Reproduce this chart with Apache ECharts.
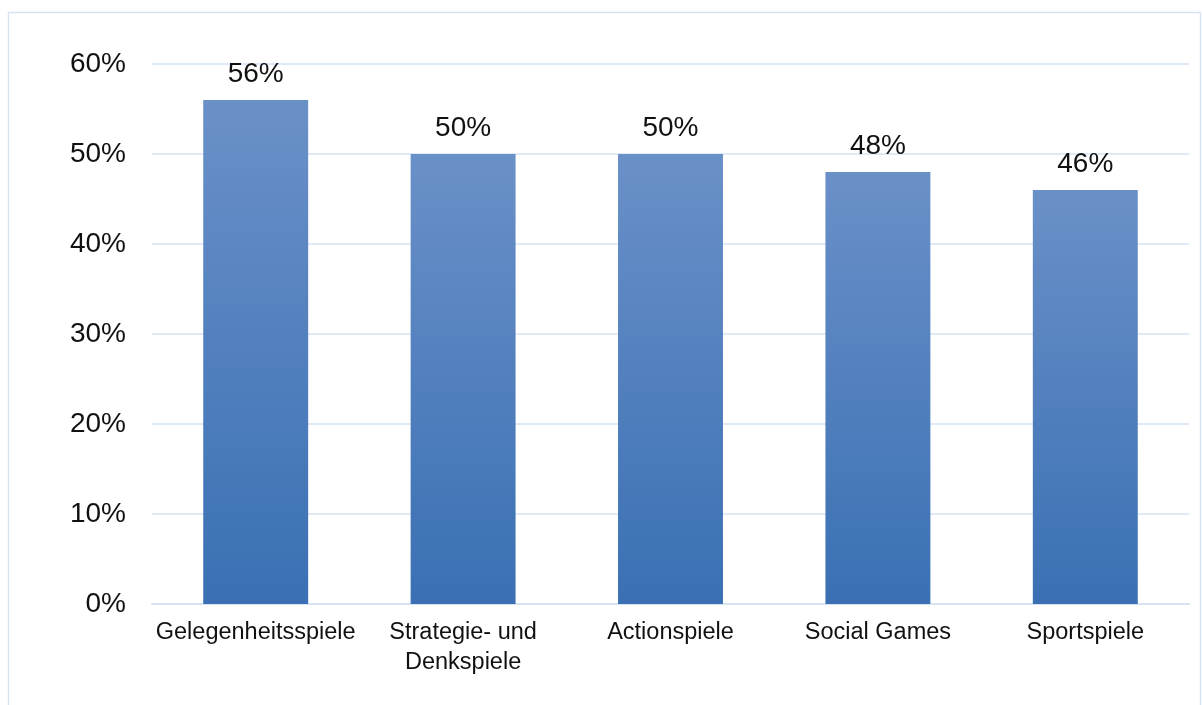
<!DOCTYPE html>
<html>
<head>
<meta charset="utf-8">
<script src="https://cdn.jsdelivr.net/npm/echarts@6/dist/echarts.min.js"></script>
<style>
  html, body { margin: 0; padding: 0; background: #ffffff; }
  #chart { width: 1202px; height: 705px; }
</style>
</head>
<body>
<div id="chart"></div>
<script>
// Genres and share of players (%)
const categories = ['Gelegenheitsspiele', 'Strategie- und\nDenkspiele', 'Actionspiele', 'Social Games', 'Sportspiele'];
const shares = [56, 50, 50, 48, 46];
const yTicks = { min: 0, max: 60, interval: 10 };

const chart = echarts.init(document.getElementById('chart'), null, { renderer: 'canvas' });
const fontFamily = '"Liberation Sans", Arial, sans-serif';

chart.setOption({
  backgroundColor: '#ffffff',
  animation: false,
  graphic: [{
    type: 'rect',
    shape: { x: 8.5, y: 12.5, width: 1192, height: 710 },
    style: { fill: 'none', stroke: '#d5e3f3', lineWidth: 1.5 },
    silent: true
  }],
  grid: { left: 152, right: 13, top: 64, bottom: 101, containLabel: false },
  xAxis: {
    type: 'category',
    data: categories,
    axisLine: { show: true, lineStyle: { color: '#d5e3f3', width: 2 } },
    axisTick: { show: false },
    axisLabel: {
      color: '#111111', fontSize: 23.5, fontFamily, margin: 14, lineHeight: 30, interval: 0
    }
  },
  yAxis: {
    type: 'value',
    min: yTicks.min, max: yTicks.max, interval: yTicks.interval,
    axisLine: { show: false },
    axisTick: { show: false },
    splitLine: { lineStyle: { color: '#d5e3f3', width: 1.5 } },
    axisLabel: {
      color: '#111111', fontSize: 28, fontFamily, margin: 26,
      formatter: v => v + '%'
    }
  },
  series: [{
    type: 'bar',
    data: shares,
    barWidth: '50.6%',
    itemStyle: {
      color: new echarts.graphic.LinearGradient(0, 0, 0, 1, [
        { offset: 0, color: '#6a90c8' },
        { offset: 1, color: '#3a70b3' }
      ])
    },
    label: {
      show: true, position: 'top', distance: 12,
      color: '#111111', fontSize: 28, fontFamily,
      formatter: p => p.value + '%'
    }
  }]
});
</script>
</body>
</html>
